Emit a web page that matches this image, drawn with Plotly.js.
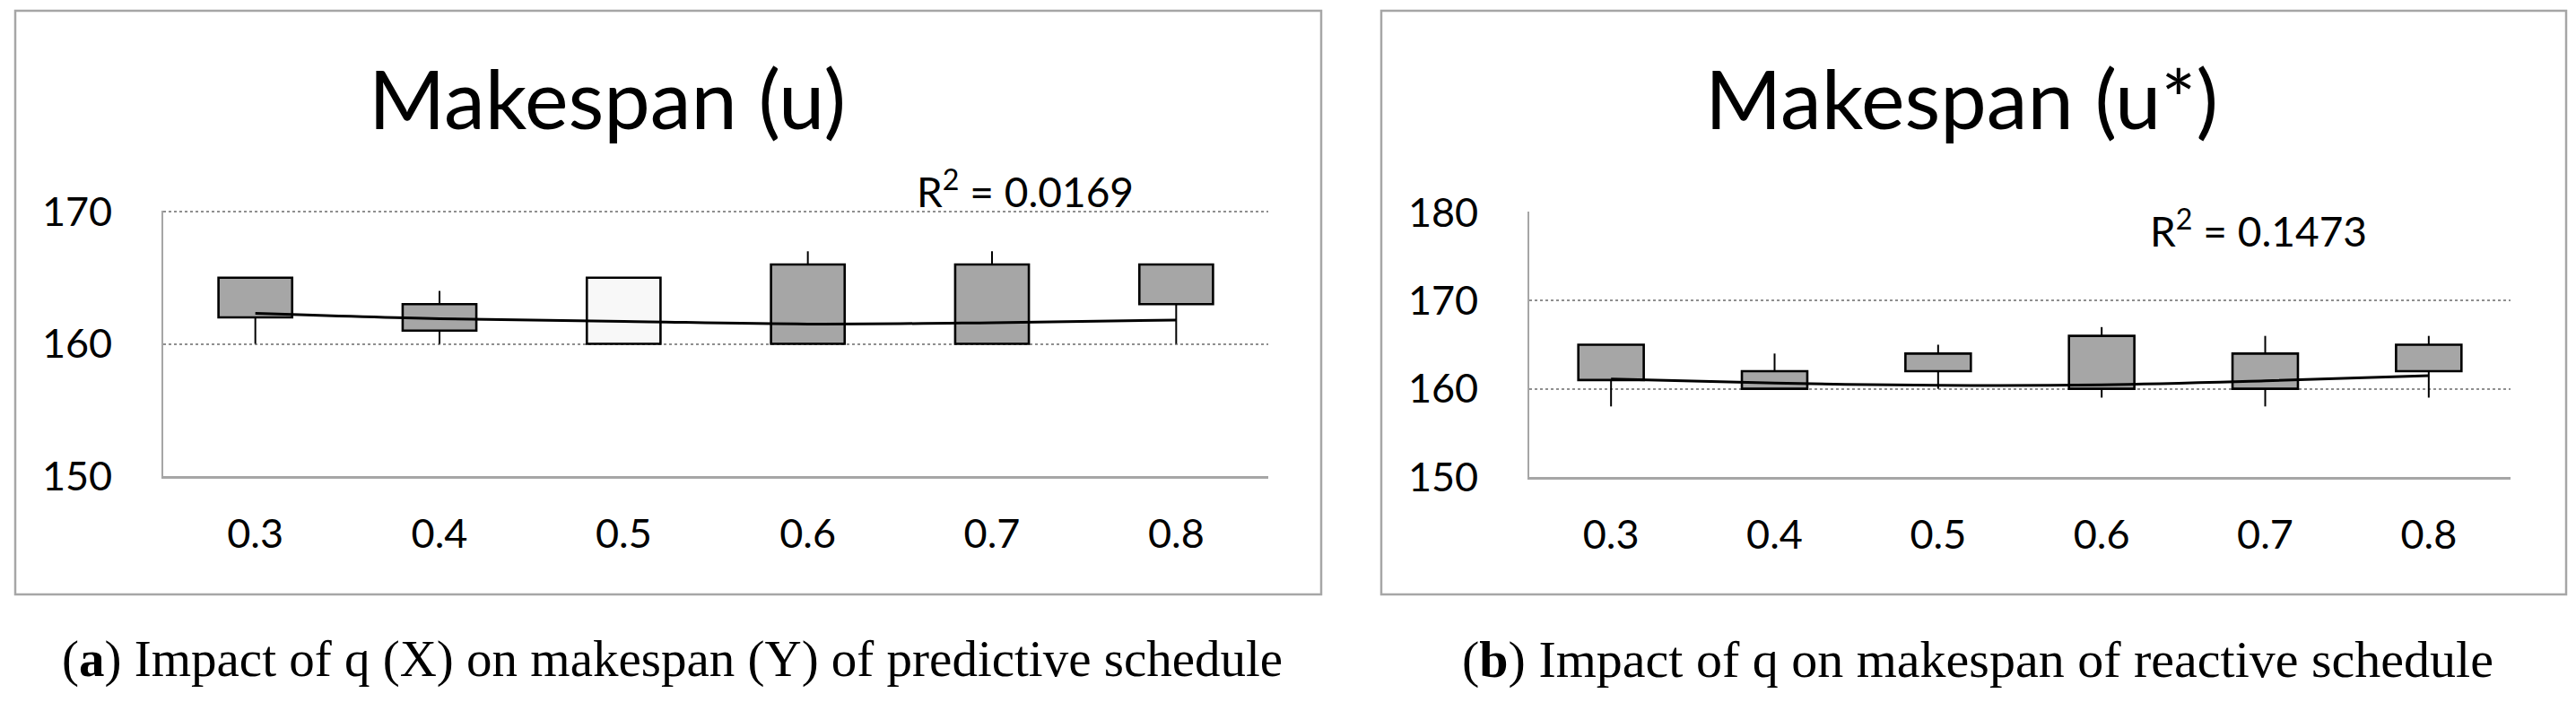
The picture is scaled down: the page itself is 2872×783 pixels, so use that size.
<!DOCTYPE html>
<html>
<head>
<meta charset="utf-8">
<script src="https://cdn.plot.ly/plotly-3.0.1.min.js"></script>
<style>
  html, body { margin: 0; padding: 0; background: #ffffff; }
  #chart { width: 2872px; height: 783px; }
</style>
</head>
<body>
<div id="chart"></div>
<script>
// ---- data ----
const qLabels = ['0.3', '0.4', '0.5', '0.6', '0.7', '0.8'];

// (a) predictive schedule, makespan (u)
const predOpen  = [162, 161, 165, 160, 160, 163];
const predClose = [165, 163, 160, 166, 166, 166];
const predLow   = [160, 160, 160, 160, 160, 160];
const predHigh  = [165, 164, 165, 167, 167, 166];
const predTrend = [162.3, 161.9, 161.7, 161.5, 161.6, 161.8];
const predR2 = '0.0169';

// (b) reactive schedule, makespan (u*)
const reacOpen  = [161, 160, 162, 160, 160, 162];
const reacClose = [165, 162, 164, 166, 164, 165];
const reacLow   = [158, 160, 160, 159, 158, 159];
const reacHigh  = [165, 164, 165, 167, 166, 166];
const reacTrend = [161.1, 160.65, 160.4, 160.45, 160.9, 161.5];
const reacR2 = '0.1473';

const predTicks = [150, 160, 170];
const reacTicks = [150, 160, 170, 180];

// ---- layout helpers (pixel -> paper) ----
const W = 2872, H = 783;
const X = px => px / W;
const Y = py => 1 - py / H;

const UP = '#a6a6a6', DOWN = '#f8f8f8';
const FONT = 'Lato, "Open Sans", sans-serif';
const SERIF = '"Liberation Serif", "DejaVu Serif", serif';

function whiskers(open, close, lo, hi) {
  const xs = [], ys = [];
  qLabels.forEach((q, i) => {
    const bLo = Math.min(open[i], close[i]), bHi = Math.max(open[i], close[i]);
    if (lo[i] < bLo) { xs.push(q, q, null); ys.push(lo[i], bLo, null); }
    if (hi[i] > bHi) { xs.push(q, q, null); ys.push(bHi, hi[i], null); }
  });
  return { xs, ys };
}

function panel(open, close, lo, hi, trend, xa, ya) {
  const w = whiskers(open, close, lo, hi);
  const base = open.map((o, i) => Math.min(o, close[i]));
  const height = open.map((o, i) => Math.abs(close[i] - o));
  const colors = open.map((o, i) => close[i] >= o ? UP : DOWN);
  return [
    { type: 'bar', x: qLabels, base: base, y: height, width: 0.4, xaxis: xa, yaxis: ya,
      marker: { color: colors, line: { color: '#000', width: 2.6 } } },
    { type: 'scatter', mode: 'lines', x: w.xs, y: w.ys, xaxis: xa, yaxis: ya,
      line: { color: '#000', width: 2 }, hoverinfo: 'skip', connectgaps: false },
    { type: 'scatter', mode: 'lines', x: qLabels, y: trend, xaxis: xa, yaxis: ya,
      line: { color: '#000', width: 3, shape: 'spline' } }
  ];
}

const data = [
  ...panel(predOpen, predClose, predLow, predHigh, predTrend, 'x', 'y'),
  ...panel(reacOpen, reacClose, reacLow, reacHigh, reacTrend, 'x2', 'y2')
];

const tickFont = { family: FONT, size: 45, color: '#000' };

function xaxis(domain, anchor) {
  return {
    domain: domain, anchor: anchor, type: 'category', range: [-0.5, 5.5],
    showline: true, linecolor: '#a6a6a6', linewidth: 2.5, showgrid: false,
    zeroline: false, ticks: '', tickfont: tickFont, ticklabelstandoff: 23,
    fixedrange: true
  };
}
function yaxis(domain, anchor, range, ticks) {
  return {
    domain: domain, anchor: anchor, range: range, tickvals: ticks,
    showline: true, linecolor: '#a6a6a6', linewidth: 1.8,
    showgrid: true, gridcolor: '#8f8f8f', gridwidth: 2, griddash: 'dot',
    zeroline: false, ticks: '', tickfont: tickFont, ticklabelstandoff: 46,
    fixedrange: true
  };
}

const layout = {
  width: W, height: H,
  margin: { l: 0, r: 0, t: 0, b: 0 },
  paper_bgcolor: '#ffffff', plot_bgcolor: '#ffffff',
  showlegend: false,
  barmode: 'overlay',
  xaxis: xaxis([X(182), X(1414)], 'y'),
  yaxis: yaxis([Y(531), Y(235)], 'x', [150, 170.07], predTicks),
  xaxis2: xaxis([X(1705), X(2799)], 'y2'),
  yaxis2: yaxis([Y(532), Y(236)], 'x2', [150, 180.1], reacTicks),
  shapes: [
    { type: 'rect', xref: 'paper', yref: 'paper', x0: X(17), x1: X(1473), y0: Y(663), y1: Y(12),
      line: { color: '#a6a6a6', width: 2.5 }, layer: 'below' },
    { type: 'rect', xref: 'paper', yref: 'paper', x0: X(1540), x1: X(2861), y0: Y(663), y1: Y(12),
      line: { color: '#a6a6a6', width: 2.5 }, layer: 'below' }
  ],
  annotations: [
    { text: 'Makespan (u)', xref: 'paper', yref: 'paper', x: X(677), y: Y(108),
      xanchor: 'center', yanchor: 'middle', showarrow: false,
      font: { family: FONT, size: 92, color: '#000' } },
    { text: 'Makespan (u*)', xref: 'paper', yref: 'paper', x: X(2187), y: Y(108),
      xanchor: 'center', yanchor: 'middle', showarrow: false,
      font: { family: FONT, size: 92, color: '#000' } },
    { text: 'R<sup>2</sup> = ' + predR2, xref: 'paper', yref: 'paper', x: X(1143), y: Y(210),
      xanchor: 'center', yanchor: 'middle', showarrow: false,
      font: { family: FONT, size: 46, color: '#000' } },
    { text: 'R<sup>2</sup> = ' + reacR2, xref: 'paper', yref: 'paper', x: X(2518), y: Y(255),
      xanchor: 'center', yanchor: 'middle', showarrow: false,
      font: { family: FONT, size: 46, color: '#000' } },
    { text: '(<b>a</b>) Impact of q (X) on makespan (Y) of predictive schedule',
      xref: 'paper', yref: 'paper', x: X(749), y: Y(735),
      xanchor: 'center', yanchor: 'middle', showarrow: false,
      font: { family: SERIF, size: 57, color: '#000' } },
    { text: '(<b>b</b>) Impact of q on makespan of reactive schedule',
      xref: 'paper', yref: 'paper', x: X(2205), y: Y(735),
      xanchor: 'center', yanchor: 'middle', showarrow: false,
      font: { family: SERIF, size: 58, color: '#000' } }
  ]
};

Plotly.newPlot('chart', data, layout, { staticPlot: true, displayModeBar: false });
</script>
</body>
</html>
